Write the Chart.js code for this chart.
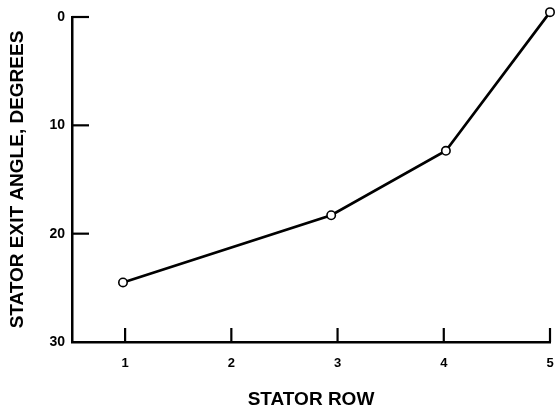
<!DOCTYPE html>
<html>
<head>
<meta charset="utf-8">
<script src="https://cdn.jsdelivr.net/npm/chart.js@4"></script>
<style>
  html, body { margin: 0; padding: 0; background: #ffffff; }
  #wrap { width: 556px; height: 413px; position: relative; }
</style>
</head>
<body>
<div id="wrap"><canvas id="c" width="556" height="413"></canvas></div>
<script>
// Stator exit angle by stator row
const statorRow = [0.98, 2.94, 4.02, 5.0];
const exitAngle = [24.5, 18.3, 12.35, -0.45];
const xTickValues = [1, 2, 3, 4, 5];
const yTickValues = [0, 10, 20, 30];

const FONT = "'Liberation Sans', Arial, Helvetica, sans-serif";

// Inward-pointing tick marks drawn from each scale's own tick positions
const inwardTicks = {
  id: 'inwardTicks',
  afterDatasetsDraw(chart) {
    const { ctx, chartArea, scales } = chart;
    ctx.save();
    ctx.strokeStyle = '#000';
    ctx.lineWidth = 2.2;
    ctx.lineCap = 'butt';
    scales.y.ticks.forEach(t => {
      if (t.value >= 30) return;
      const py = scales.y.getPixelForValue(t.value);
      ctx.beginPath();
      ctx.moveTo(chartArea.left, py);
      ctx.lineTo(chartArea.left + 17, py);
      ctx.stroke();
    });
    scales.x.ticks.forEach(t => {
      const px = scales.x.getPixelForValue(t.value);
      ctx.beginPath();
      ctx.moveTo(px, chartArea.bottom);
      ctx.lineTo(px, chartArea.bottom - 14);
      ctx.stroke();
    });
    ctx.restore();
  }
};

new Chart(document.getElementById('c'), {
  type: 'scatter',
  data: {
    datasets: [{
      data: statorRow.map((x, i) => ({ x: x, y: exitAngle[i] })),
      showLine: true,
      borderColor: '#000',
      borderWidth: 2.7,
      tension: 0,
      pointRadius: 4.2,
      pointBorderWidth: 1.6,
      pointBorderColor: '#000',
      pointBackgroundColor: '#fff',
      clip: false
    }]
  },
  options: {
    responsive: false,
    animation: false,
    devicePixelRatio: 1,
    layout: { padding: { top: 17, right: 6, left: 0, bottom: 0 } },
    plugins: {
      legend: { display: false },
      tooltip: { enabled: false }
    },
    scales: {
      x: {
        type: 'linear',
        min: 0.5,
        max: 5,
        afterBuildTicks(scale) { scale.ticks = xTickValues.map(v => ({ value: v })); },
        afterFit(scale) {
          scale.height = 71;
          scale.paddingLeft = 0;
          scale.paddingRight = 0;
        },
        grid: { display: true, drawOnChartArea: false, drawTicks: false },
        border: { display: true, color: '#000', width: 2.5 },
        ticks: {
          color: '#000',
          padding: 14,
          maxRotation: 0,
          autoSkip: false,
          font: { family: FONT, size: 13, weight: 'bold' }
        },
        title: {
          display: true,
          text: 'STATOR ROW',
          color: '#000',
          font: { family: FONT, size: 19, weight: 'bold', lineHeight: 1 },
          padding: { top: 0, bottom: 3.5 }
        }
      },
      y: {
        type: 'linear',
        reverse: true,
        min: 0,
        max: 30,
        afterBuildTicks(scale) { scale.ticks = yTickValues.map(v => ({ value: v })); },
        afterFit(scale) {
          scale.width = 72;
          scale.paddingTop = 0;
          scale.paddingBottom = 0;
        },
        grid: { display: true, drawOnChartArea: false, drawTicks: false },
        border: { display: true, color: '#000', width: 2.5 },
        ticks: {
          color: '#000',
          padding: 7,
          font: { family: FONT, size: 14, weight: 'bold' }
        },
        title: {
          display: true,
          text: 'STATOR EXIT ANGLE, DEGREES',
          color: '#000',
          font: { family: FONT, size: 19, weight: 'bold', lineHeight: 1 },
          padding: { top: 8.5, bottom: 0 }
        }
      }
    }
  },
  plugins: [inwardTicks]
});
</script>
</body>
</html>
